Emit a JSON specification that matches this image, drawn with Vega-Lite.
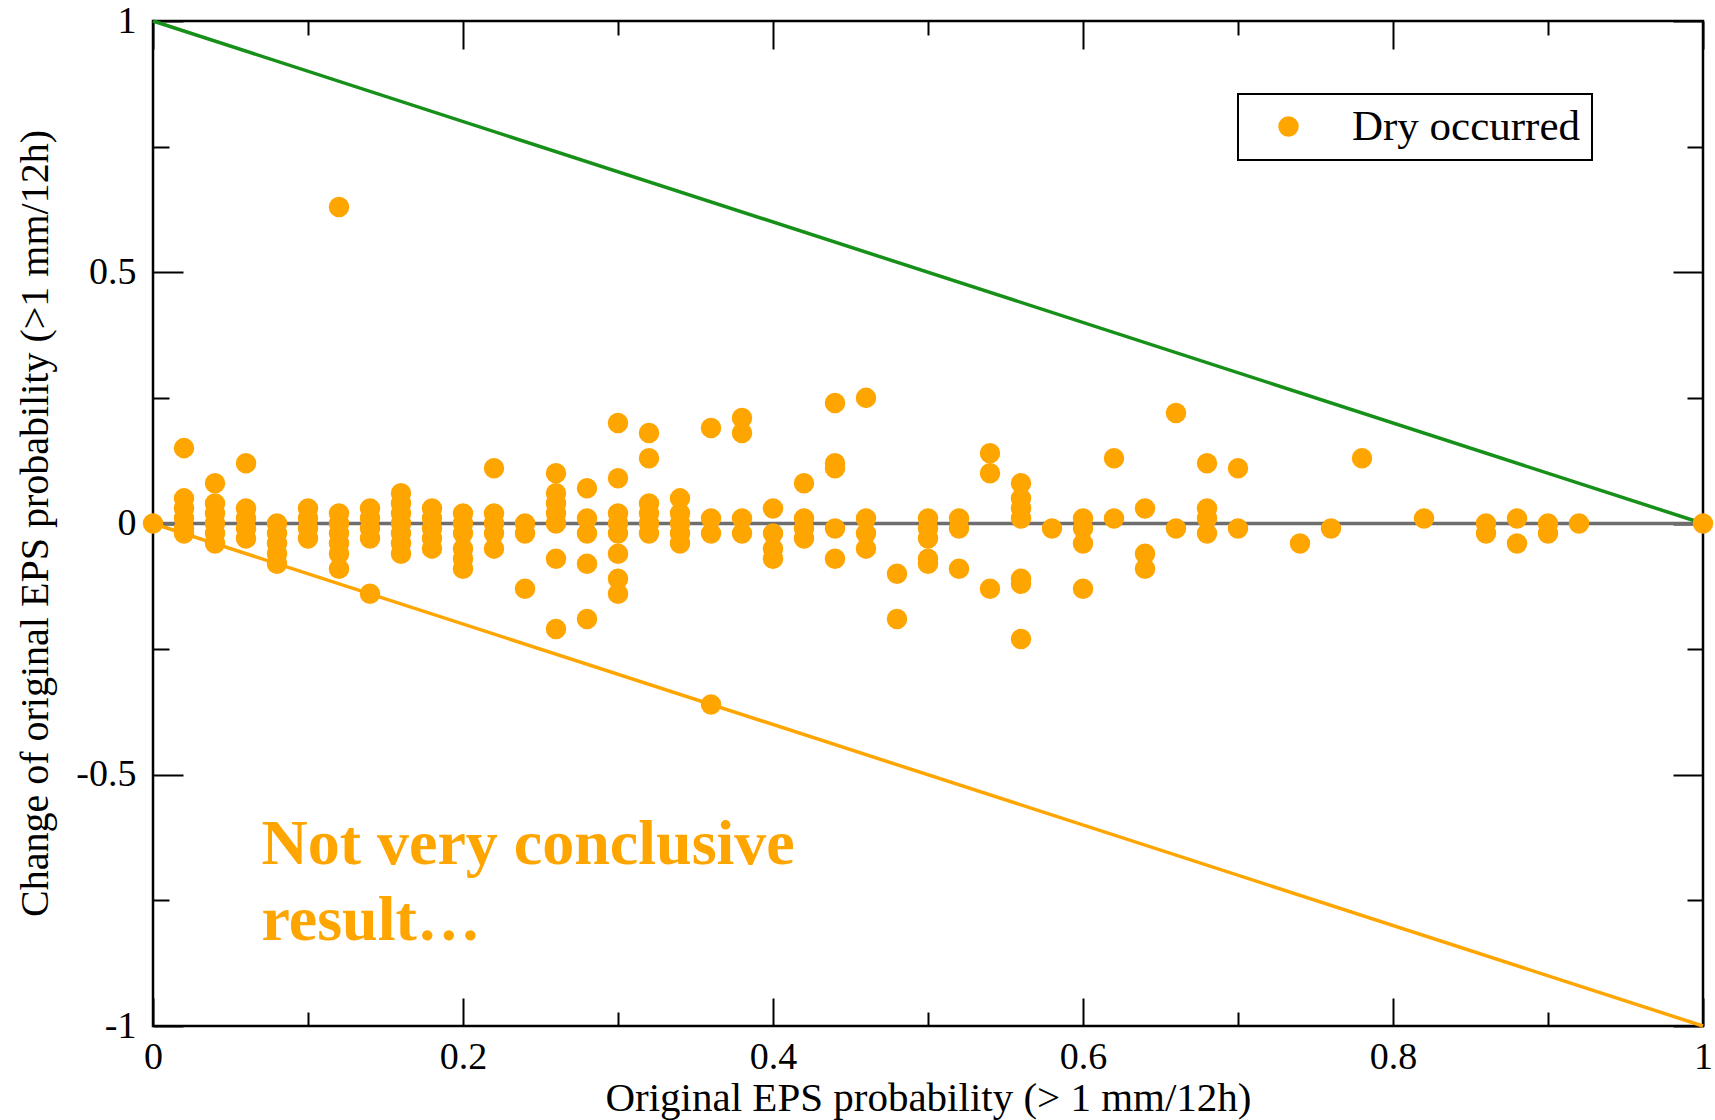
{
  "$schema": "https://vega.github.io/schema/vega-lite/v6.json",
  "width": 1550,
  "height": 1005,
  "autosize": {"type": "none"},
  "padding": {"left": 153, "top": 21, "right": 12, "bottom": 94},
  "background": "white",
  "config": {
    "view": {"stroke": "#000000", "strokeWidth": 2.5},
    "font": "Liberation Serif",
    "axis": {
      "grid": false,
      "domain": false,
      "labelFont": "Liberation Serif",
      "labelFontSize": 38,
      "labelColor": "#000000",
      "titleFont": "Liberation Serif",
      "titleFontSize": 40,
      "titleFontWeight": "normal",
      "titleColor": "#000000",
      "tickColor": "#000000",
      "tickWidth": 2
    },
    "legend": {"strokeWidth": 2}
  },
  "datasets": {
    "zero": [{"x": 0, "y": 0}, {"x": 1, "y": 0}],
    "upper": [{"x": 0, "y": 1}, {"x": 1, "y": 0}],
    "lower": [{"x": 0, "y": 0}, {"x": 1, "y": -1}],
    "note": [{"x": 0.07, "y": -0.678, "label": "Not very conclusive\nresult…"}],
    "pts": [
      {"x": 0, "y": 0},
      {"x": 0.02, "y": 0.15}, {"x": 0.02, "y": 0.05}, {"x": 0.02, "y": 0.03}, {"x": 0.02, "y": 0.01}, {"x": 0.02, "y": -0.01}, {"x": 0.02, "y": -0.02},
      {"x": 0.04, "y": 0.08}, {"x": 0.04, "y": 0.04}, {"x": 0.04, "y": 0.02}, {"x": 0.04, "y": 0}, {"x": 0.04, "y": -0.02}, {"x": 0.04, "y": -0.04},
      {"x": 0.06, "y": 0.12}, {"x": 0.06, "y": 0.03}, {"x": 0.06, "y": 0.01}, {"x": 0.06, "y": -0.01}, {"x": 0.06, "y": -0.03},
      {"x": 0.08, "y": 0}, {"x": 0.08, "y": -0.02}, {"x": 0.08, "y": -0.04}, {"x": 0.08, "y": -0.06}, {"x": 0.08, "y": -0.08},
      {"x": 0.1, "y": 0.03}, {"x": 0.1, "y": 0.01}, {"x": 0.1, "y": -0.01}, {"x": 0.1, "y": -0.03},
      {"x": 0.12, "y": 0.63}, {"x": 0.12, "y": 0.02}, {"x": 0.12, "y": 0}, {"x": 0.12, "y": -0.02}, {"x": 0.12, "y": -0.04}, {"x": 0.12, "y": -0.06}, {"x": 0.12, "y": -0.09},
      {"x": 0.14, "y": 0.03}, {"x": 0.14, "y": 0.01}, {"x": 0.14, "y": -0.01}, {"x": 0.14, "y": -0.03}, {"x": 0.14, "y": -0.14},
      {"x": 0.16, "y": 0.06}, {"x": 0.16, "y": 0.04}, {"x": 0.16, "y": 0.02}, {"x": 0.16, "y": 0}, {"x": 0.16, "y": -0.02}, {"x": 0.16, "y": -0.04}, {"x": 0.16, "y": -0.06},
      {"x": 0.18, "y": 0.03}, {"x": 0.18, "y": 0.01}, {"x": 0.18, "y": -0.01}, {"x": 0.18, "y": -0.03}, {"x": 0.18, "y": -0.05},
      {"x": 0.2, "y": 0.02}, {"x": 0.2, "y": 0}, {"x": 0.2, "y": -0.02}, {"x": 0.2, "y": -0.05}, {"x": 0.2, "y": -0.07}, {"x": 0.2, "y": -0.09},
      {"x": 0.22, "y": 0.11}, {"x": 0.22, "y": 0.02}, {"x": 0.22, "y": 0}, {"x": 0.22, "y": -0.02}, {"x": 0.22, "y": -0.05},
      {"x": 0.24, "y": 0}, {"x": 0.24, "y": -0.02}, {"x": 0.24, "y": -0.13},
      {"x": 0.26, "y": 0.1}, {"x": 0.26, "y": 0.06}, {"x": 0.26, "y": 0.04}, {"x": 0.26, "y": 0.02}, {"x": 0.26, "y": 0}, {"x": 0.26, "y": -0.07}, {"x": 0.26, "y": -0.21},
      {"x": 0.28, "y": 0.07}, {"x": 0.28, "y": 0.01}, {"x": 0.28, "y": -0.02}, {"x": 0.28, "y": -0.08}, {"x": 0.28, "y": -0.19},
      {"x": 0.3, "y": 0.2}, {"x": 0.3, "y": 0.09}, {"x": 0.3, "y": 0.02}, {"x": 0.3, "y": 0}, {"x": 0.3, "y": -0.02}, {"x": 0.3, "y": -0.06}, {"x": 0.3, "y": -0.11}, {"x": 0.3, "y": -0.14},
      {"x": 0.32, "y": 0.18}, {"x": 0.32, "y": 0.13}, {"x": 0.32, "y": 0.04}, {"x": 0.32, "y": 0.02}, {"x": 0.32, "y": 0}, {"x": 0.32, "y": -0.02},
      {"x": 0.34, "y": 0.05}, {"x": 0.34, "y": 0.02}, {"x": 0.34, "y": 0}, {"x": 0.34, "y": -0.02}, {"x": 0.34, "y": -0.04},
      {"x": 0.36, "y": 0.19}, {"x": 0.36, "y": 0.01}, {"x": 0.36, "y": -0.02}, {"x": 0.36, "y": -0.36},
      {"x": 0.38, "y": 0.21}, {"x": 0.38, "y": 0.18}, {"x": 0.38, "y": 0.01}, {"x": 0.38, "y": -0.02},
      {"x": 0.4, "y": 0.03}, {"x": 0.4, "y": -0.02}, {"x": 0.4, "y": -0.05}, {"x": 0.4, "y": -0.07},
      {"x": 0.42, "y": 0.08}, {"x": 0.42, "y": 0.01}, {"x": 0.42, "y": -0.01}, {"x": 0.42, "y": -0.03},
      {"x": 0.44, "y": 0.24}, {"x": 0.44, "y": 0.12}, {"x": 0.44, "y": 0.11}, {"x": 0.44, "y": -0.01}, {"x": 0.44, "y": -0.07},
      {"x": 0.46, "y": 0.25}, {"x": 0.46, "y": 0.01}, {"x": 0.46, "y": -0.02}, {"x": 0.46, "y": -0.05},
      {"x": 0.48, "y": -0.1}, {"x": 0.48, "y": -0.19},
      {"x": 0.5, "y": 0.01}, {"x": 0.5, "y": -0.01}, {"x": 0.5, "y": -0.03}, {"x": 0.5, "y": -0.07}, {"x": 0.5, "y": -0.08},
      {"x": 0.52, "y": 0.01}, {"x": 0.52, "y": -0.01}, {"x": 0.52, "y": -0.09},
      {"x": 0.54, "y": 0.14}, {"x": 0.54, "y": 0.1}, {"x": 0.54, "y": -0.13},
      {"x": 0.56, "y": 0.08}, {"x": 0.56, "y": 0.05}, {"x": 0.56, "y": 0.03}, {"x": 0.56, "y": 0.01}, {"x": 0.56, "y": -0.11}, {"x": 0.56, "y": -0.12}, {"x": 0.56, "y": -0.23},
      {"x": 0.58, "y": -0.01},
      {"x": 0.6, "y": 0.01}, {"x": 0.6, "y": -0.01}, {"x": 0.6, "y": -0.04}, {"x": 0.6, "y": -0.13},
      {"x": 0.62, "y": 0.13}, {"x": 0.62, "y": 0.01},
      {"x": 0.64, "y": 0.03}, {"x": 0.64, "y": -0.06}, {"x": 0.64, "y": -0.09},
      {"x": 0.66, "y": 0.22}, {"x": 0.66, "y": -0.01},
      {"x": 0.68, "y": 0.12}, {"x": 0.68, "y": 0.03}, {"x": 0.68, "y": 0.01}, {"x": 0.68, "y": -0.02},
      {"x": 0.7, "y": 0.11}, {"x": 0.7, "y": -0.01},
      {"x": 0.74, "y": -0.04},
      {"x": 0.76, "y": -0.01},
      {"x": 0.78, "y": 0.13},
      {"x": 0.82, "y": 0.01},
      {"x": 0.86, "y": 0}, {"x": 0.86, "y": -0.02},
      {"x": 0.88, "y": 0.01}, {"x": 0.88, "y": -0.04},
      {"x": 0.9, "y": 0}, {"x": 0.9, "y": -0.02},
      {"x": 0.92, "y": 0},
      {"x": 1, "y": 0}
    ]
  },
  "layer": [
    {
      "data": {"name": "zero"},
      "mark": {"type": "line", "color": "#6e6e6e", "strokeWidth": 3.5},
      "encoding": {
        "x": {"field": "x", "type": "quantitative",
          "scale": {"domain": [0, 1], "nice": false, "zero": false},
          "axis": {"orient": "bottom", "values": [0, 0.2, 0.4, 0.6, 0.8, 1], "tickSize": -28, "labelPadding": 40,
            "labelExpr": "'' + datum.value", "labelFlush": false,
            "title": "Original EPS probability (> 1 mm/12h)", "titleFontSize": 41, "titleX": 775, "titleY": 84, "titleBaseline": "alphabetic", "titleAnchor": "middle"}},
        "y": {"field": "y", "type": "quantitative",
          "scale": {"domain": [-1, 1], "nice": false, "zero": false},
          "axis": {"orient": "left", "values": [-1, -0.5, 0, 0.5, 1], "tickSize": -30, "labelPadding": 47,
            "labelExpr": "'' + datum.value", "labelFlush": false,
            "title": "Change of original EPS probability (>1 mm/12h)", "titleX": -118, "titleY": 502, "titleBaseline": "middle", "titleAnchor": "middle"}}
      }
    },
    {
      "data": {"name": "upper"},
      "mark": {"type": "line", "color": "#17901a", "strokeWidth": 3.5},
      "encoding": {
        "x": {"field": "x", "type": "quantitative",
          "scale": {"domain": [0, 1], "nice": false, "zero": false},
          "axis": {"orient": "top", "values": [0, 0.2, 0.4, 0.6, 0.8, 1], "tickSize": -28, "labels": false, "title": null}},
        "y": {"field": "y", "type": "quantitative",
          "scale": {"domain": [-1, 1], "nice": false, "zero": false},
          "axis": {"orient": "right", "values": [-1, -0.5, 0, 0.5, 1], "tickSize": -30, "labels": false, "title": null}}
      }
    },
    {
      "data": {"name": "lower"},
      "mark": {"type": "line", "color": "#FFA500", "strokeWidth": 3.5},
      "encoding": {
        "x": {"field": "x", "type": "quantitative",
          "scale": {"domain": [0, 1], "nice": false, "zero": false},
          "axis": {"orient": "bottom", "values": [0.1, 0.3, 0.5, 0.7, 0.9], "tickSize": -14, "labels": false, "title": null}},
        "y": {"field": "y", "type": "quantitative",
          "scale": {"domain": [-1, 1], "nice": false, "zero": false},
          "axis": {"orient": "left", "values": [-0.75, -0.25, 0.25, 0.75], "tickSize": -16, "labels": false, "title": null}}
      }
    },
    {
      "data": {"name": "pts"},
      "transform": [{"calculate": "'Dry occurred'", "as": "series"}],
      "mark": {"type": "point", "filled": true, "shape": "circle", "size": 420, "opacity": 1},
      "encoding": {
        "x": {"field": "x", "type": "quantitative",
          "scale": {"domain": [0, 1], "nice": false, "zero": false},
          "axis": {"orient": "top", "values": [0.1, 0.3, 0.5, 0.7, 0.9], "tickSize": -14, "labels": false, "title": null}},
        "y": {"field": "y", "type": "quantitative",
          "scale": {"domain": [-1, 1], "nice": false, "zero": false},
          "axis": {"orient": "right", "values": [-0.75, -0.25, 0.25, 0.75], "tickSize": -16, "labels": false, "title": null}},
        "color": {"field": "series", "type": "nominal",
          "scale": {"domain": ["Dry occurred"], "range": ["#FFA500"]},
          "legend": {"title": null, "orient": "none", "legendX": 1085, "legendY": 73,
            "strokeColor": "#000000", "fillColor": "#ffffff", "padding": 11,
            "symbolType": "circle", "symbolSize": 420, "symbolStrokeWidth": 0, "symbolOffset": 18,
            "labelFont": "Liberation Serif", "labelFontSize": 43, "labelColor": "#000000", "labelOffset": 42, "labelLimit": 0}}
      }
    },
    {
      "data": {"name": "note"},
      "mark": {"type": "text", "align": "left", "baseline": "alphabetic", "font": "Liberation Serif",
        "fontWeight": "bold", "fontSize": 64, "color": "#FFA500", "lineBreak": "\n", "lineHeight": 76},
      "encoding": {
        "x": {"field": "x", "type": "quantitative", "axis": null},
        "y": {"field": "y", "type": "quantitative", "axis": null},
        "text": {"field": "label", "type": "nominal"}
      }
    }
  ],
  "resolve": {"axis": {"x": "independent", "y": "independent"}}
}
